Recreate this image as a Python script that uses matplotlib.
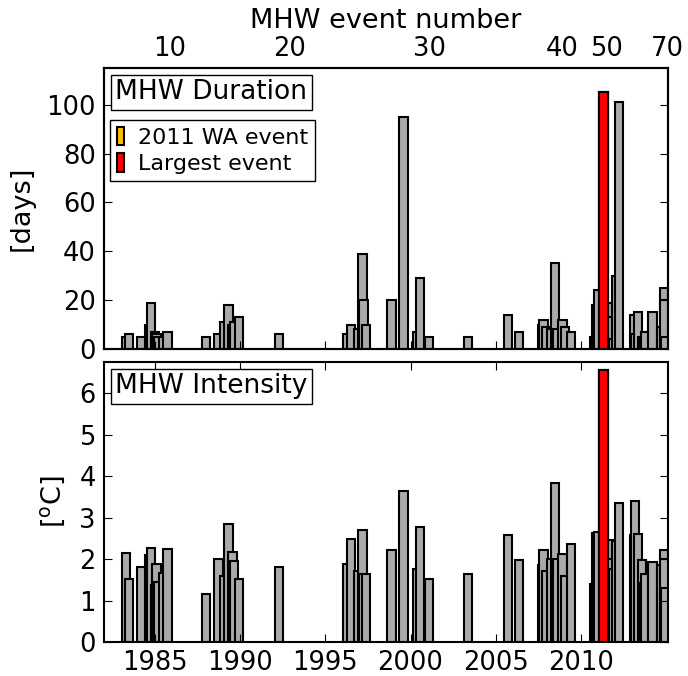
import numpy as np
import matplotlib
matplotlib.use('Agg')
import matplotlib.pyplot as plt
from matplotlib.offsetbox import AnchoredText
from matplotlib.patches import Patch

# MHW events: start (decimal year), duration [days], mean intensity [deg C]
ev_start = [1983.05, 1983.24, 1983.96, 1984.41, 1984.51, 1984.75, 1984.84, 1984.92, 1985.20, 1985.49,
            1987.76, 1988.48, 1988.81, 1989.07, 1989.30, 1989.40, 1989.69, 1992.04,
            1996.05, 1996.25, 1996.68, 1996.93, 1996.99, 1997.13, 1998.63, 1999.34,
            2000.16, 2000.32, 2000.83, 2003.13, 2005.48, 2006.13,
            2007.48, 2007.56, 2007.73, 2008.02, 2008.24, 2008.38, 2008.67, 2008.81, 2009.16,
            2010.53, 2010.65, 2010.76, 2011.08, 2011.57, 2011.62, 2011.66, 2011.84, 2012.00,
            2012.90, 2012.95, 2013.10, 2013.34, 2013.45, 2013.54, 2013.96,
            2014.50, 2014.62, 2014.66, 2014.70]
ev_dur = [5, 6, 5, 10, 19, 7, 6, 5, 5, 7,
          5, 6, 11, 18, 10, 11, 13, 6,
          6, 10, 8, 39, 20, 10, 20, 95,
          7, 29, 5, 5, 14, 7,
          10, 12, 9, 8, 35, 8, 12, 9, 7,
          5, 18, 24, 105, 19, 13, 4, 30, 101,
          14, 6, 15, 5, 4, 7, 15,
          9, 25, 20, 5]
ev_int = [2.15, 1.53, 1.81, 2.10, 2.27, 1.37, 1.87, 1.45, 1.67, 2.24,
          1.15, 2.01, 1.59, 2.84, 2.17, 1.95, 1.51, 1.81,
          1.89, 2.49, 1.71, 2.69, 1.65, 1.65, 2.21, 3.65,
          1.77, 2.77, 1.51, 1.65, 2.57, 1.97,
          1.85, 2.21, 1.70, 2.00, 3.83, 2.00, 2.11, 1.60, 2.37,
          1.39, 2.63, 2.65, 6.56, 2.47, 2.01, 1.77, 2.44, 3.36,
          2.57, 3.41, 2.61, 1.97, 1.43, 1.65, 1.93,
          1.85, 2.21, 1.99, 1.30]

# top axis: event number labels and where they sit in time
evnum_labels = [10, 20, 30, 40, 50, 70]
evnum_pos = [1985.88, 1992.92, 2001.14, 2008.90, 2011.50, 2015.10]

year_ticks = [1985, 1990, 1995, 2000, 2005, 2010]
width = 0.49
grey = '#aaaaaa'
col_wa = (1.0, 0.75, 0.0)
col_max = (1.0, 0.0, 0.0)

plt.rcParams['font.size'] = 18.5
plt.rcParams['xtick.direction'] = 'in'
plt.rcParams['ytick.direction'] = 'in'
plt.rcParams['xtick.top'] = True
plt.rcParams['ytick.right'] = True
plt.rcParams['xtick.major.size'] = 6
plt.rcParams['ytick.major.size'] = 6
plt.rcParams['xtick.major.pad'] = 6
plt.rcParams['ytick.major.pad'] = 6
plt.rcParams['axes.linewidth'] = 1.5

ev_start = np.array(ev_start)
ev_dur = np.array(ev_dur)
ev_int = np.array(ev_int)
i_max = np.argmax(ev_dur)
i_wa = np.where(ev_start >= 2011)[0][0]

fig = plt.figure(figsize=(6.88, 6.76), dpi=100)
ax1 = fig.add_axes([0.1512, 0.4837, 0.8198, 0.4157])
ax2 = fig.add_axes([0.1512, 0.0503, 0.8198, 0.4142])

for ax, vals, ylab, title, ylim in [(ax1, ev_dur, '[days]', 'MHW Duration', 115),
                                    (ax2, ev_int, r'[$^\mathrm{o}$C]', 'MHW Intensity', 6.75)]:
    ax.bar(ev_start, vals, width=width, align='edge', color=grey, edgecolor='k', linewidth=1.5)
    ax.bar(ev_start[i_wa], vals[i_wa], width=width, align='edge', color=col_wa, edgecolor='k', linewidth=1.5)
    ax.bar(ev_start[i_max], vals[i_max], width=width, align='edge', color=col_max, edgecolor='k', linewidth=1.5)
    ax.set_xlim(1982.0, 2015.12)
    ax.set_ylim(0, ylim)
    ax.set_xticks(year_ticks)
    ax.set_ylabel(ylab, fontsize=19.5, labelpad=8)
    at = AnchoredText(title, loc='upper left', prop=dict(size=19), pad=0.18, borderpad=0.25, frameon=True)
    at.patch.set_boxstyle('square,pad=0')
    at.patch.set_edgecolor('k')
    at.patch.set_linewidth(1.0)
    ax.add_artist(at)

ax1.set_yticks([0, 20, 40, 60, 80, 100])
ax1.set_xticklabels([])
ax2.set_yticks([0, 1, 2, 3, 4, 5, 6])

handles = [Patch(facecolor=col_wa, edgecolor='k', linewidth=1.5),
           Patch(facecolor=col_max, edgecolor='k', linewidth=1.5)]
leg = ax1.legend(handles, ['2011 WA event', 'Largest event'], loc='upper left',
                 bbox_to_anchor=(0.0106, 0.815), borderaxespad=0, fontsize=16,
                 handlelength=0.35, handleheight=0.9, handletextpad=0.6,
                 fancybox=False, framealpha=1, edgecolor='k', borderpad=0.3, labelspacing=0.25)
leg.get_frame().set_linewidth(1.0)

axt = ax1.twiny()
axt.set_xlim(ax1.get_xlim())
axt.set_xticks(evnum_pos)
axt.set_xticklabels([str(n) for n in evnum_labels])
axt.tick_params(axis='x', length=0, pad=4)
axt.set_xlabel('MHW event number', fontsize=19.5, labelpad=6)

fig.savefig('out.png', dpi=100)
